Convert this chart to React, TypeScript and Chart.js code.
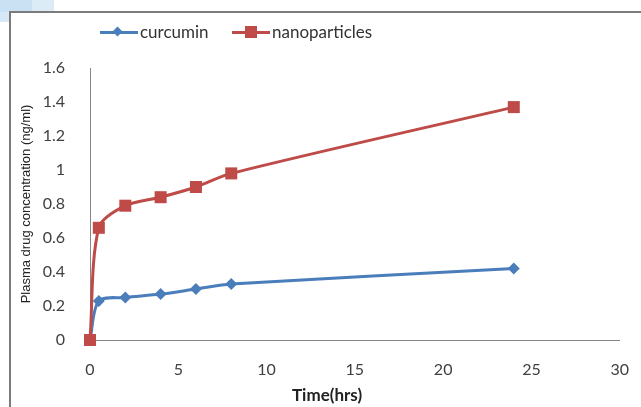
import React, { useEffect, useRef } from "react";
import { Chart, registerables } from "chart.js";

Chart.register(...registerables);

const timeHrs = [0, 0.5, 2, 4, 6, 8, 24];
const curcumin = [0, 0.23, 0.25, 0.27, 0.3, 0.33, 0.42];
const nanoparticles = [0, 0.66, 0.79, 0.84, 0.9, 0.98, 1.37];
const seriesNames = ["curcumin", "nanoparticles"];
const xTitle = "Time(hrs)";
const yTitle = "Plasma drug concentration (ng/ml)";

const BLUE = "#4a7ebb";
const RED = "#be4b48";

export default function App() {
  const ref = useRef<HTMLCanvasElement>(null);
  useEffect(() => {
    if (!ref.current) return;
    const chart = new Chart(ref.current, {
      type: "line",
      data: {
        datasets: [
          {
            label: seriesNames[0],
            data: timeHrs.map((t, i) => ({ x: t, y: curcumin[i] })),
            borderColor: BLUE,
            backgroundColor: BLUE,
            borderWidth: 3,
            pointStyle: "rectRot",
            pointRadius: 6,
            pointBorderWidth: 0,
            tension: 0.3,
            clip: false,
            order: 1,
          },
          {
            label: seriesNames[1],
            data: timeHrs.map((t, i) => ({ x: t, y: nanoparticles[i] })),
            borderColor: RED,
            backgroundColor: RED,
            borderWidth: 3,
            pointStyle: "rect",
            pointRadius: 8.5,
            pointBorderWidth: 0,
            tension: 0.3,
            clip: false,
            order: 0,
          },
        ],
      },
      options: {
        animation: false,
        responsive: false,
        maintainAspectRatio: false,
        layout: { padding: { top: 68, right: 19, bottom: 0, left: 0 } },
        plugins: { legend: { display: false }, tooltip: { enabled: false } },
        scales: {
          x: {
            type: "linear",
            min: 0,
            max: 30,
            ticks: {
              stepSize: 5,
              padding: 12,
              color: "#404040",
              font: { family: "Lato", size: 16 },
            },
            grid: { display: false },
            border: { display: true, color: "#868686", width: 1 },
            title: { display: false },
            afterFit: (s: any) => {
              s.height = 67;
            },
          },
          y: {
            min: 0,
            max: 1.6,
            ticks: {
              stepSize: 0.2,
              padding: 17,
              color: "#404040",
              font: { family: "Lato", size: 16 },
              callback: (v: any) => String(Math.round(Number(v) * 10) / 10),
            },
            grid: { display: false },
            border: { display: true, color: "#868686", width: 1 },
            title: {
              display: true,
              text: yTitle,
              color: "#222",
              font: { family: "Liberation Sans", size: 13 },
              padding: { top: 19, bottom: 0 },
            },
            afterFit: (s: any) => {
              s.width = 90;
            },
          },
        },
      },
    });
    return () => chart.destroy();
  }, []);

  const legendText: React.CSSProperties = {
    position: "absolute",
    top: 21,
    fontFamily: "Lato",
    fontSize: 17,
    color: "#333",
    lineHeight: "22px",
    whiteSpace: "nowrap",
  };

  return (
    <div
      style={{
        position: "fixed",
        left: 0,
        top: 0,
        width: 641,
        height: 407,
        background: "#fff",
        overflow: "hidden",
      }}
    >
      <div style={{ position: "absolute", left: 0, top: 0, width: 32, height: 12, background: "#c9e1f2" }} />
      <div style={{ position: "absolute", left: 32, top: 0, width: 22, height: 12, background: "#dcecf7" }} />
      <div style={{ position: "absolute", left: 0, top: 12, width: 9, height: 10, background: "#d6e8f5" }} />
      <div
        style={{
          position: "absolute",
          left: 9,
          top: 11,
          width: 700,
          height: 500,
          borderLeft: "2px solid #7b7b7b",
          borderTop: "2px solid #7b7b7b",
        }}
      />
      <canvas ref={ref} width={641} height={407} style={{ position: "absolute", left: 0, top: 0 }} />
      <div style={{ position: "absolute", left: 100, top: 31, width: 38, height: 3, background: BLUE }} />
      <div
        style={{
          position: "absolute",
          left: 114,
          top: 28,
          width: 7,
          height: 7,
          background: BLUE,
          transform: "rotate(45deg)",
        }}
      />
      <div style={{ ...legendText, left: 140 }}>{seriesNames[0]}</div>
      <div style={{ position: "absolute", left: 232, top: 31, width: 38, height: 3, background: RED }} />
      <div style={{ position: "absolute", left: 245, top: 26, width: 12, height: 12, background: RED }} />
      <div style={{ ...legendText, left: 272 }}>{seriesNames[1]}</div>
      <div
        style={{
          position: "absolute",
          left: 292,
          top: 384,
          fontFamily: "Lato",
          fontWeight: "bold",
          fontSize: 17,
          color: "#222",
          lineHeight: "22px",
          whiteSpace: "nowrap",
        }}
      >
        {xTitle}
      </div>
    </div>
  );
}
